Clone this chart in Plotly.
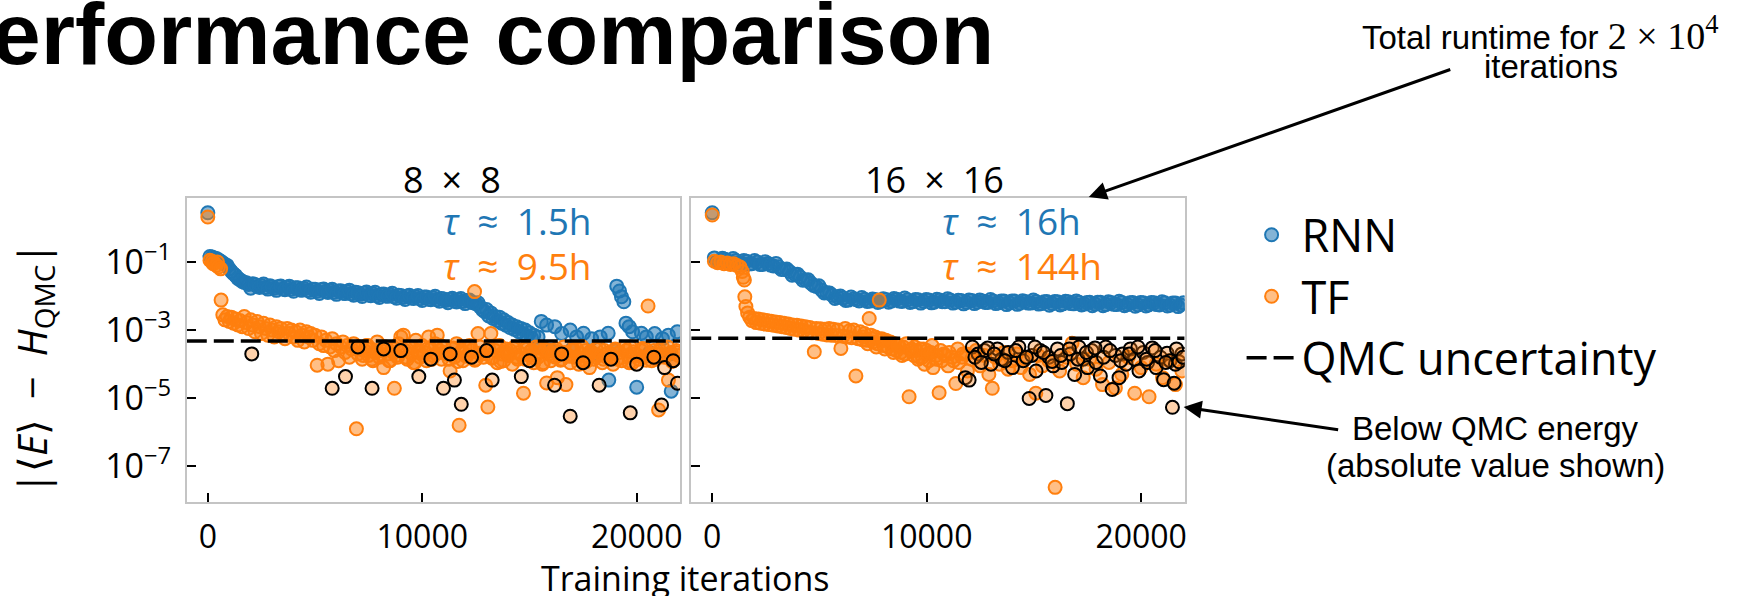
import plotly.graph_objects as go

# ---------------- data: |<E> - H_QMC| versus training iteration ----------------
# 8 x 8 lattice
rnn8_iter = [0, 100, 300, 500, 700, 900, 1100, 1300, 1500, 1700,
             1900, 2100, 2300, 2500, 2700, 2900, 3100, 3300, 3500, 3700,
             3900, 4100, 4300, 4500, 4700, 4900, 5100, 5300, 5500, 5700,
             5900, 6100, 6300, 6500, 6700, 6900, 7100, 7300, 7500, 7700,
             7900, 8100, 8300, 8500, 8700, 8900, 9100, 9300, 9500, 9700,
             9900, 10100, 10300, 10500, 10700, 10900, 11100, 11300, 11500, 11700,
             11900, 12100, 12300, 12500, 12600, 12700, 12800, 12900, 13000, 13100,
             13200, 13300, 13400, 13500, 13600, 13700, 13800, 13900, 14000, 14100,
             14200, 14300, 14400, 14500, 14600, 14700, 14800, 14900, 15000, 15100,
             15200, 15300, 15400, 15550, 15800, 16000, 16180, 16500, 16900, 17000,
             17200, 17520, 17900, 18000, 18300, 18670, 18700, 19000, 19070, 19200,
             19290, 19400, 19500, 19650, 19810, 20000, 20220, 20450, 20600, 20840,
             21200, 21480, 21550, 21610, 21890,
             200, 400, 600, 800, 1000, 1200, 1400, 1600, 1800,
             2000, 2200, 2400, 2600, 2800, 3000, 3200, 3400, 3600, 3800,
             4000, 4200, 4400, 4600, 4800, 5000, 5200, 5400, 5600, 5800,
             6000, 6200, 6400, 6600, 6800, 7000, 7200, 7400, 7600, 7800,
             8000, 8200, 8400, 8600, 8800, 9000, 9200, 9400, 9600, 9800,
             10000, 10200, 10400, 10600, 10800, 11000, 11200, 11400, 11600, 11800,
             12000, 12200, 12400]
rnn8_err = [2.8, 0.145, 0.132, 0.117, 0.0955, 0.0794, 0.0525, 0.0398, 0.0302, 0.0251,
            0.0219, 0.0229, 0.0191, 0.0204, 0.0178, 0.0200, 0.0170, 0.0191, 0.0162, 0.0182,
            0.0158, 0.0174, 0.0151, 0.0166, 0.0145, 0.0158, 0.0138, 0.0155, 0.0135, 0.0148,
            0.0129, 0.0141, 0.0123, 0.0135, 0.0117, 0.0129, 0.0112, 0.0123, 0.0107, 0.0117,
            0.0102, 0.0112, 0.0100, 0.0110, 0.0095, 0.0105, 0.0091, 0.0100, 0.0087, 0.0095,
            0.0083, 0.0093, 0.0081, 0.0089, 0.0078, 0.0085, 0.0074, 0.0081, 0.0072, 0.0078,
            0.0069, 0.0074, 0.0066, 0.0060, 0.0063, 0.0048, 0.0040, 0.0035, 0.0040, 0.0026,
            0.0032, 0.0022, 0.0025, 0.0019, 0.0024, 0.0016, 0.0020, 0.0014, 0.00166, 0.00117,
            0.00141, 0.00105, 0.00126, 0.00089, 0.00112, 0.00079, 0.00100, 0.00066, 0.00083, 0.00058,
            0.00071, 0.00032, 0.00063, 0.0018, 0.0014, 0.00025, 0.00126, 0.00079, 0.0010, 0.00028,
            0.00063, 0.00081, 0.00056, 0.00020, 0.00063, 0.00081, 3.4e-5, 0.00025, 0.0195, 0.0141,
            0.0095, 0.0068, 0.0016, 0.00126, 0.00089, 2.1e-5, 0.00081, 0.00063, 0.00022, 0.00079,
            0.00056, 0.00071, 0.0002, 1.6e-5, 0.00089,
            0.140, 0.126, 0.105, 0.085, 0.063, 0.045, 0.033, 0.027, 0.0245,
            0.0170, 0.0219, 0.0179, 0.0225, 0.0160, 0.0188, 0.0147, 0.0198, 0.0154, 0.0195,
            0.0138, 0.0174, 0.0149, 0.0183, 0.0130, 0.0157, 0.0119, 0.0161, 0.0128, 0.0158,
            0.0112, 0.0142, 0.0118, 0.0149, 0.0106, 0.0124, 0.0097, 0.0131, 0.0102, 0.0129,
            0.0091, 0.0115, 0.0098, 0.0121, 0.0086, 0.0104, 0.0079, 0.0106, 0.0085, 0.0104,
            0.0074, 0.0094, 0.0078, 0.0098, 0.0070, 0.0082, 0.0064, 0.0086, 0.0067, 0.0085,
            0.0060, 0.0076, 0.0063]

tf8_iter = [0, 100, 200, 250, 300, 400, 450, 500, 600, 620,
            700, 800, 900, 1000, 1100, 1200, 1300, 1400, 1500, 1600,
            1700, 1800, 1900, 2000, 2100, 2200, 2300, 2400, 2500, 2600,
            2700, 2800, 2900, 3000, 3100, 3200, 3300, 3400, 3500, 3600,
            3700, 3800, 3900, 4000, 4100, 4200, 4300, 4400, 4500, 4600,
            4700, 4800, 4900, 5000, 5100, 5200, 5300, 5400, 5500, 5600,
            5700, 5800, 5900, 6000, 6100, 6200, 6300, 6400, 6500, 6600,
            6700, 6800, 6930, 7000, 7100, 7200, 7300, 7400, 7500, 7600,
            7700, 7800, 7900, 8000, 8100, 8200, 8300, 8400, 8500, 8600,
            8700, 8800, 8900, 9000, 9120, 9200, 9300, 9400, 9500, 9600,
            9700, 9800, 9900, 10000, 10100, 10200, 10300, 10400, 10500, 10600,
            10700, 10800, 10900, 11000, 11100, 11300, 11400, 11500, 11600, 11720,
            11800, 11900, 12000, 12100, 12200, 12300, 12440, 12500, 12600, 12700,
            12800, 12960, 13060, 13100, 13200, 13300, 13400, 13500, 13600, 13700,
            13800, 13900, 14000, 14100, 14200, 14300, 14400, 14500, 14720, 14800,
            14900, 15000, 15100, 15200, 15300, 15400, 15500, 15600, 15700, 15800,
            15900, 16000, 16100, 16200, 16300, 16400, 16500, 16600, 16700, 16800,
            16900, 17000, 17100, 17200, 17300, 17400, 17500, 17600, 17700, 17800,
            17900, 18000, 18100, 18200, 18400, 18500, 18600, 18800, 18900, 19000,
            19100, 19200, 19300, 19500, 19600, 19700, 19800, 19900, 20100, 20200,
            20300, 20400, 20530, 20600, 20700, 20800, 20900, 21020, 21100, 21200,
            21300, 21480, 21600, 21700, 21850, 21950,
            7050, 7250, 7450, 7650, 7850, 8050, 8250, 8450, 8650, 8850,
            9050, 9250, 9450, 9650, 9850, 10050, 10250, 10450, 10650, 10850,
            11050, 11250, 11450, 11650, 11850, 12050, 12250, 12450, 12650, 12850,
            13050, 13250, 13450, 13650, 13850, 14050, 14250, 14450, 14650, 14850,
            15050, 15250, 15450, 15650, 15850, 16050, 16250, 16450, 16650, 16850,
            17050, 17250, 17450, 17650, 17850, 18050, 18250, 18450, 18650, 18850,
            19050, 19250, 19450, 19650, 19850, 20050, 20250, 20450, 20650, 20850,
            21050, 21250, 21450, 21650, 21850]
tf8_err = [2.1, 0.112, 0.105, 0.089, 0.095, 0.079, 0.1, 0.071, 0.063, 0.0076,
           0.0028, 0.0020, 0.0025, 0.00178, 0.0024, 0.00158, 0.0021, 0.00141, 0.0019, 0.00126,
           0.0025, 0.00166, 0.00112, 0.0020, 0.00141, 0.00089, 0.00178, 0.00126, 0.00079, 0.00158,
           0.00112, 0.00071, 0.00141, 0.0010, 0.00063, 0.00126, 0.00089, 0.00112, 0.00079, 0.00056,
           0.00112, 0.00079, 0.0010, 0.00063, 0.00089, 0.0005, 0.0010, 0.00071, 0.00045, 0.00089,
           0.00063, 0.00079, 0.0005, 0.00071, 9.3e-5, 0.0004, 0.00063, 0.00035, 0.0005, 1.0e-4,
           0.00032, 0.00056, 0.00025, 0.0004, 1.26e-4, 0.00032, 0.00045, 0.00022, 0.00035, 1.6e-4,
           0.00028, 0.0004, 1.26e-6, 2.0e-4, 0.00032, 1.4e-4, 0.00025, 0.00035, 1.8e-4, 0.00028,
           1.26e-4, 0.00022, 0.00045, 1.6e-4, 0.00025, 7.9e-5, 0.00032, 2.0e-4, 1.26e-4, 0.00028,
           1.95e-5, 1.8e-4, 0.0004, 0.00063, 0.00071, 0.00025, 1.4e-4, 0.00032, 2.0e-4, 1.1e-4,
           0.0005, 0.00025, 1.6e-4, 0.00035, 0.00022, 1.26e-4, 0.00063, 0.00028, 1.8e-4, 0.0004,
           0.00071, 0.00025, 1.4e-4, 0.00032, 2.0e-4, 6.3e-5, 0.00028, 1.6e-4, 0.0004, 1.6e-6,
           0.00022, 1.26e-4, 0.00032, 1.8e-4, 0.00035, 0.00025, 0.0135, 1.4e-4, 0.00079, 0.00032,
           2.0e-4, 2.4e-5, 5.5e-6, 0.00028, 0.00079, 1.6e-4, 0.00025, 1.1e-4, 0.00035, 2.0e-4,
           1.26e-4, 0.00028, 1.8e-4, 0.00025, 1.0e-4, 0.00032, 1.6e-4, 0.00022, 1.4e-5, 1.4e-4,
           0.00028, 1.8e-4, 0.00025, 1.1e-4, 0.00032, 1.6e-4, 0.00022, 1.0e-4, 0.00028, 2.8e-5,
           2.0e-4, 1.26e-4, 0.00025, 1.6e-4, 4.0e-5, 0.00022, 1.4e-4, 0.00032, 2.5e-5, 1.8e-4,
           1.1e-4, 0.00025, 1.6e-4, 0.00028, 1.0e-4, 2.0e-4, 1.26e-4, 0.00025, 1.6e-4, 7.9e-5,
           0.00022, 1.4e-4, 0.00028, 1.8e-4, 1.1e-4, 0.00025, 1.6e-4, 2.0e-4, 1.0e-4, 0.00028,
           1.4e-4, 0.00022, 1.26e-4, 0.00025, 1.8e-4, 0.00032, 1.1e-4, 2.0e-4, 1.4e-4, 0.00025,
           1.6e-4, 0.00028, 0.0051, 1.8e-4, 1.26e-4, 0.00025, 1.4e-4, 4.5e-6, 2.0e-4, 0.00032,
           1.6e-4, 3.4e-5, 0.00022, 1.26e-4, 0.00025, 1.8e-4,
           2.8e-4, 1.8e-4, 3.5e-4, 1.4e-4, 2.5e-4, 2.0e-4, 3.2e-4, 1.26e-4, 2.2e-4, 1.6e-4,
           2.5e-4, 1.6e-4, 3.2e-4, 1.1e-4, 2.2e-4, 1.8e-4, 2.8e-4, 1.4e-4, 2.0e-4, 3.5e-4,
           2.2e-4, 1.4e-4, 3.0e-4, 1.2e-4, 2.5e-4, 1.7e-4, 3.2e-4, 1.3e-4, 2.1e-4, 1.6e-4,
           2.6e-4, 1.5e-4, 3.4e-4, 1.2e-4, 2.3e-4, 1.9e-4, 2.9e-4, 1.4e-4, 2.0e-4, 3.1e-4,
           2.4e-4, 1.5e-4, 3.0e-4, 1.1e-4, 2.6e-4, 1.8e-4, 2.8e-4, 1.3e-4, 2.2e-4, 1.7e-4,
           2.7e-4, 1.6e-4, 3.3e-4, 1.2e-4, 2.4e-4, 1.9e-4, 3.0e-4, 1.4e-4, 2.1e-4, 1.6e-4,
           2.5e-4, 1.5e-4, 3.1e-4, 1.1e-4, 2.3e-4, 1.8e-4, 2.9e-4, 1.3e-4, 2.0e-4, 1.6e-4,
           2.6e-4, 1.7e-4, 3.2e-4, 1.2e-4, 2.2e-4]

# TF energies that fall below the QMC energy (absolute value plotted)
tf8_below_iter = [2050, 5800, 6420, 7000, 7660, 8200, 9000, 9840, 10400, 10990,
                  11300, 11500, 11820, 12300, 13000, 13260, 14620, 15000, 16170, 16500,
                  16900, 17500, 18250, 18800, 19700, 20000, 20800, 21160, 21300, 21700,
                  21900]
tf8_below_err = [2.0e-4, 1.95e-5, 4.3e-5, 3.2e-4, 1.95e-5, 2.8e-4, 2.5e-4, 4.3e-5, 1.4e-4, 1.95e-5,
                 2.0e-4, 3.4e-5, 6.6e-6, 1.6e-4, 2.5e-4, 3.4e-5, 4.3e-5, 1.26e-4, 2.4e-5, 2.0e-4,
                 2.95e-6, 1.1e-4, 2.4e-5, 1.4e-4, 3.7e-6, 1.0e-4, 1.6e-4, 6.3e-6, 7.9e-5, 1.26e-4,
                 2.75e-5]

# 16 x 16 lattice
rnn16_iter = [0, 100, 350, 600, 850, 1100, 1350, 1600, 1850, 2100,
              2350, 2600, 2850, 3100, 3350, 3600, 3850, 4100, 4350, 4600,
              4850, 5100, 5350, 5600, 5850, 6100, 6350, 6600, 6850, 7100,
              7350, 7600, 7850, 8100, 8350, 8600, 8850, 9100, 9350, 9600,
              9850, 10100, 10350, 10600, 10850, 11100, 11350, 11600, 11850, 12100,
              12350, 12600, 12850, 13100, 13350, 13600, 13850, 14100, 14350, 14600,
              14850, 15100, 15350, 15600, 15850, 16100, 16350, 16600, 16850, 17100,
              17350, 17600, 17850, 18100, 18350, 18600, 18850, 19100, 19350, 19600,
              19850, 20100, 20350, 20600, 20850, 21100, 21350, 21600, 21850,
              225, 475, 725, 975, 1225, 1475, 1725, 1975, 2225, 2475,
              2725, 2975, 3225, 3475, 3725, 3975, 4225, 4475, 4725, 4975,
              5225, 5475, 5725, 5975, 6225, 6475, 6725, 6975, 7225, 7475,
              7725, 7975, 8225, 8475, 8725, 8975, 9225, 9475, 9725, 9975,
              10225, 10475, 10725, 10975, 11225, 11475, 11725, 11975, 12225, 12475,
              12725, 12975, 13225, 13475, 13725, 13975, 14225, 14475, 14725, 14975,
              15225, 15475, 15725, 15975, 16225, 16475, 16725, 16975, 17225, 17475,
              17725, 17975, 18225, 18475, 18725, 18975, 19225, 19475, 19725, 19975,
              20225, 20475, 20725, 20975, 21225, 21475, 21725, 21975]
rnn16_err = [2.8, 0.132, 0.110, 0.120, 0.100, 0.110, 0.093, 0.105, 0.089, 0.100,
             0.085, 0.091, 0.076, 0.072, 0.060, 0.0525, 0.0437, 0.0363, 0.0295, 0.0240,
             0.0191, 0.0151, 0.0126, 0.0105, 0.0093, 0.0087, 0.0076, 0.0083, 0.0072, 0.0081,
             0.0071, 0.0079, 0.0069, 0.0079, 0.0071, 0.0081, 0.0069, 0.0078, 0.0068, 0.0078,
             0.0069, 0.0076, 0.0066, 0.0076, 0.0068, 0.0076, 0.0066, 0.0074, 0.0065, 0.0074,
             0.0066, 0.0072, 0.0065, 0.0072, 0.0063, 0.0071, 0.0063, 0.0071, 0.0062, 0.0069,
             0.0062, 0.0069, 0.0060, 0.0069, 0.0060, 0.0068, 0.0059, 0.0068, 0.0059, 0.0066,
             0.0058, 0.0066, 0.0058, 0.0066, 0.0056, 0.0065, 0.0056, 0.0065, 0.0056, 0.0065,
             0.0055, 0.0063, 0.0055, 0.0063, 0.0055, 0.0063, 0.0054, 0.0062, 0.0055,
             0.105, 0.129, 0.107, 0.126, 0.093, 0.111, 0.087, 0.110, 0.085, 0.102,
             0.081, 0.091, 0.060, 0.062, 0.041, 0.044, 0.029, 0.030, 0.0204, 0.0200,
             0.0123, 0.0123, 0.0085, 0.0100, 0.0074, 0.0093, 0.0078, 0.0091, 0.0069, 0.0082,
             0.0065, 0.0083, 0.0066, 0.0084, 0.0071, 0.0087, 0.0065, 0.0079, 0.0062, 0.0079,
             0.0063, 0.0080, 0.0068, 0.0083, 0.0062, 0.0075, 0.0059, 0.0076, 0.0060, 0.0077,
             0.0065, 0.0079, 0.0060, 0.0072, 0.0056, 0.0072, 0.0057, 0.0073, 0.0062, 0.0076,
             0.0058, 0.0068, 0.0054, 0.0069, 0.0055, 0.0070, 0.0060, 0.0072, 0.0055, 0.0065,
             0.0052, 0.0066, 0.0052, 0.0068, 0.0057, 0.0070, 0.0052, 0.0063, 0.0050, 0.0065,
             0.0051, 0.0065, 0.0056, 0.0068, 0.0051, 0.0062, 0.0049, 0.0063]

tf16_iter = [0, 100, 250, 400, 550, 700, 850, 1000, 1150, 1300,
             1400, 1450, 1500, 1520, 1570, 1650, 1750, 1850, 1950, 2050,
             2150, 2250, 2350, 2450, 2550, 2650, 2750, 2850, 2950, 3050,
             3150, 3250, 3350, 3450, 3550, 3650, 3750, 3850, 3950, 4050,
             4150, 4250, 4350, 4450, 4550, 4650, 4760, 4850, 4950, 5050,
             5150, 5250, 5350, 5450, 5550, 5650, 5750, 5850, 6000, 6100,
             6200, 6300, 6400, 6500, 6600, 6700, 6800, 6900, 7000, 7100,
             7200, 7320, 7400, 7500, 7600, 7700, 7790, 7900, 8000, 8100,
             8200, 8300, 8400, 8500, 8600, 8700, 8800, 8900, 9000, 9180,
             9300, 9400, 9500, 9600, 9700, 9800, 9900, 10000, 10100, 10200,
             10300, 10450, 10580, 10700, 10800, 11000, 11200, 11360, 11500, 11700,
             11900, 12100, 12300, 12500, 12700, 12900, 13060, 13200, 13400, 13600,
             13800, 14000, 14200, 14400, 14600, 14800, 15090, 15200, 15400, 15700,
             15990, 16200, 16500, 16780, 17000, 17300, 17600, 17900, 18200, 18500,
             18800, 19100, 19400, 19700, 20000, 20370, 20700, 21000, 21300, 21600,
             21900,
             7050, 7250, 7450, 7650, 7850, 8050, 8250, 8450, 8650, 8850,
             9050, 9250, 9450, 9650, 9850, 10050, 10250, 10450, 10650, 10850,
             11050, 11250, 11450, 11650, 11850]
tf16_err = [2.4, 0.105, 0.095, 0.1, 0.089, 0.093, 0.085, 0.089, 0.079, 0.071,
            0.0525, 0.0355, 0.0295, 0.0095, 0.0049, 0.0032, 0.0024, 0.0019, 0.0022, 0.00166,
            0.0021, 0.00158, 0.0020, 0.00151, 0.0019, 0.00145, 0.00182, 0.00138, 0.00174, 0.00132,
            0.00166, 0.00126, 0.00158, 0.0012, 0.00151, 0.00112, 0.00141, 0.00105, 0.00138, 0.0010,
            0.00132, 0.00095, 0.00126, 0.00089, 0.0012, 0.00083, 0.00023, 0.00112, 0.00079, 0.0011,
            0.00076, 0.00105, 0.00072, 0.00112, 0.00071, 0.00105, 0.00069, 0.0010, 0.00029, 0.00066,
            0.00112, 0.00063, 0.00095, 0.0006, 0.0010, 4.5e-5, 0.00056, 0.00089, 0.00052, 0.00079,
            0.0005, 0.0022, 0.00071, 0.00045, 0.00063, 0.0004, 0.0076, 0.00056, 0.00035, 0.0005,
            0.00032, 0.00045, 0.00028, 0.0004, 0.00025, 0.00035, 0.00022, 0.00032, 0.0002, 1.1e-5,
            0.00028, 0.00018, 0.00025, 0.00014, 0.00028, 0.00016, 0.0001, 0.00025, 0.000126, 0.00022,
            7.9e-5, 0.00018, 1.45e-5, 0.000126, 0.0002, 8.9e-5, 0.00016, 2.7e-5, 0.000112, 0.0002,
            6.3e-5, 0.00014, 0.00025, 8.9e-5, 0.00018, 5e-5, 1.95e-5, 0.00016, 0.0001, 0.00022,
            7.1e-5, 0.000126, 0.0002, 7.9e-5, 0.00014, 5e-5, 1.4e-5, 0.00018, 8.9e-5, 0.000126,
            2.4e-8, 6.3e-5, 0.00016, 0.00041, 0.0001, 4e-5, 0.00014, 7.1e-5, 2.5e-5, 0.000112,
            2e-5, 5e-5, 0.00016, 1.4e-5, 7.9e-5, 1.1e-5, 0.0001, 4e-5, 0.000126, 2.5e-5,
            6.3e-5,
            6.3e-4, 4.0e-4, 5.6e-4, 3.2e-4, 5.0e-4, 2.8e-4, 4.5e-4, 2.2e-4, 3.5e-4, 1.8e-4,
            4.0e-4, 2.5e-4, 3.2e-4, 1.6e-4, 2.8e-4, 2.0e-4, 3.5e-4, 1.4e-4, 2.5e-4, 1.8e-4,
            2.2e-4, 1.26e-4, 2.8e-4, 1.6e-4, 2.0e-4]

tf16_below_iter = [11800, 11980, 12130, 12400, 12700, 13000, 13300, 13500, 13800, 14000,
                   14300, 14500, 14780, 14900, 15100, 15300, 15560, 15700, 15900, 16100,
                   16300, 16560, 16700, 16900, 17100, 17300, 17500, 17700, 17900, 18100,
                   18350, 18650, 18800, 18970, 19130, 19300, 19500, 19700, 19900, 20100,
                   20300, 20520, 20700, 20900, 21050, 21210, 21350, 21460, 21540, 21600,
                   21770, 21900,
                   12250, 12550, 12850, 13150, 13650, 14150, 14650, 15050, 15450, 15850,
                   16250, 16650, 17050, 17450, 17850, 18250, 18550, 19050, 19450, 19850,
                   20250, 20650, 21150, 21650, 21950]
tf16_below_err = [4e-5, 3.4e-5, 3.2e-4, 2.0e-4, 2.5e-4, 1.0e-4, 2.8e-4, 1.4e-4, 2.2e-4, 7.9e-5,
                  3.2e-4, 1.26e-4, 9.8e-6, 1.8e-4, 6.3e-5, 2.5e-4, 1.2e-5, 1.6e-4, 8.9e-5, 2.8e-4,
                  1.12e-4, 6.9e-6, 2.0e-4, 5e-5, 3.2e-4, 1.4e-4, 7.9e-5, 2.5e-4, 1.12e-4, 4.5e-5,
                  3.2e-4, 1.8e-5, 1.8e-4, 4e-5, 2.0e-4, 1.0e-4, 2.8e-4, 1.4e-4, 6.3e-5, 2.2e-4,
                  1.12e-4, 3.0e-4, 7.9e-5, 1.6e-4, 3.5e-5, 2.1e-4, 1.26e-4, 5.4e-6, 2.75e-5, 1.0e-4,
                  1.17e-4, 2.0e-4,
                  1.6e-4, 1.12e-4, 3.0e-4, 2.0e-4, 1.26e-4, 2.5e-4, 1.6e-4, 3.2e-4, 2.2e-4, 1.2e-4,
                  1.8e-4, 2.8e-4, 1.4e-4, 2.2e-4, 3.0e-4, 1.6e-4, 2.5e-4, 1.26e-4, 2.0e-4, 3.2e-4,
                  1.4e-4, 2.5e-4, 1.12e-4, 2.8e-4, 1.6e-4]

# QMC statistical uncertainty for each lattice
qmc_unc_8x8 = 4.8e-4
qmc_unc_16x16 = 5.8e-4

panel_titles = ["8\u2002×\u20028", "16\u2002×\u200216"]
runtime_rnn = ["1.5h", "16h"]
runtime_tf = ["9.5h", "144h"]

x_range = [-980, 22030]
x_tick_vals = [0, 10000, 20000]
x_tick_text = ["0", "10000", "20000"]
y_tick_vals = [1e-1, 1e-3, 1e-5, 1e-7]
y_tick_text = ["10<sup>−1</sup>", "10<sup>−3</sup>", "10<sup>−5</sup>", "10<sup>−7</sup>"]

# ---------------- styling ----------------
W, H = 1760, 596
BLUE = "#1f77b4"
ORANGE = "#ff7f0e"
SANS = "Open Sans"
HELV = "Liberation Sans"
MSIZE = 13


def px(x):
    return x / W


def py(y):
    return 1 - y / H


fig = go.Figure()

panels = [
    ("x", "y", rnn8_iter, rnn8_err, tf8_iter, tf8_err, tf8_below_iter, tf8_below_err, qmc_unc_8x8),
    ("x2", "y2", rnn16_iter, rnn16_err, tf16_iter, tf16_err, tf16_below_iter, tf16_below_err, qmc_unc_16x16),
]
for i, (xa, ya, rx, ry, tx, ty, bx, by, qmc) in enumerate(panels):
    first = i == 0
    fig.add_trace(go.Scatter(
        x=rx, y=ry, mode="markers", name="RNN", legendgroup="rnn", showlegend=first,
        marker=dict(size=MSIZE, color="rgba(31,119,180,0.55)", line=dict(color=BLUE, width=2)),
        xaxis=xa, yaxis=ya))
    fig.add_trace(go.Scatter(
        x=tx, y=ty, mode="markers", name="TF", legendgroup="tf", showlegend=first,
        marker=dict(size=MSIZE, color="rgba(255,127,14,0.5)", line=dict(color=ORANGE, width=2)),
        xaxis=xa, yaxis=ya))
    fig.add_trace(go.Scatter(
        x=bx, y=by, mode="markers", name="TF below QMC", showlegend=False,
        marker=dict(size=MSIZE, color="rgba(255,127,14,0.35)", line=dict(color="black", width=2)),
        xaxis=xa, yaxis=ya))
    fig.add_trace(go.Scatter(
        x=x_range, y=[qmc, qmc], mode="lines", name="QMC uncertainty", legendgroup="qmc",
        showlegend=first, line=dict(color="black", width=3.5, dash="20px,7px"),
        xaxis=xa, yaxis=ya))

axis_common = dict(showgrid=False, zeroline=False, showline=True, mirror=True,
                   linecolor="#c4c4c4", linewidth=1.5, ticks="inside", ticklen=9,
                   tickwidth=2, tickcolor="black")
x_common = dict(range=x_range, tickvals=x_tick_vals, ticktext=x_tick_text,
                tickfont=dict(family=SANS, size=32, color="black"), ticklabelstandoff=6,
                **axis_common)
y_common = dict(type="log", range=[-8.05, 0.88], tickvals=y_tick_vals,
                domain=[py(502), py(198)], **axis_common)

fig.update_layout(
    width=W, height=H,
    margin=dict(l=0, r=0, t=0, b=0),
    paper_bgcolor="white", plot_bgcolor="white",
    xaxis=dict(domain=[px(187), px(681)], anchor="y", **x_common),
    xaxis2=dict(domain=[px(692), px(1186)], anchor="y2", **x_common),
    yaxis=dict(anchor="x", ticktext=y_tick_text, ticklabelstandoff=7,
               tickfont=dict(family=SANS, size=34, color="black"), **y_common),
    yaxis2=dict(anchor="x2", showticklabels=False, **y_common),
    legend=dict(x=px(1243), y=py(199), xanchor="left", yanchor="top",
                font=dict(family=SANS, size=45, color="black"),
                itemwidth=50, bgcolor="rgba(0,0,0,0)", traceorder="normal"),
    showlegend=True,
)

ann = []
# big heading, running off the left edge
ann.append(dict(text="<b>Performance comparison</b>", x=px(997), y=py(34), xanchor="right",
                yanchor="middle", font=dict(family=HELV, size=88, color="black")))
# panel titles and runtimes
for xc, title in zip([453, 936], panel_titles):
    ann.append(dict(text=title, x=px(xc), y=py(179), xanchor="center", yanchor="middle",
                    font=dict(family=SANS, size=36, color="black")))
for xl, t_rnn, t_tf in zip([442, 941], runtime_rnn, runtime_tf):
    ann.append(dict(text="<i>τ</i>\u2002≈\u2002" + t_rnn, x=px(xl), y=py(220), xanchor="left",
                    yanchor="middle", font=dict(family=SANS, size=37, color=BLUE)))
    ann.append(dict(text="<i>τ</i>\u2002≈\u2002" + t_tf, x=px(xl), y=py(265), xanchor="left",
                    yanchor="middle", font=dict(family=SANS, size=37, color=ORANGE)))
# axis titles
ann.append(dict(text="|⟨<i>E</i>⟩\u2002−\u2002<i>H</i><sub>QMC</sub>|", x=px(33), y=py(368),
                textangle=-90, xanchor="center", yanchor="middle",
                font=dict(family=SANS, size=40, color="black")))
ann.append(dict(text="Training iterations", x=px(686), y=py(578), xanchor="center",
                yanchor="middle", font=dict(family=SANS, size=34, color="black")))
# call-outs
ann.append(dict(text="Total runtime for <span style='font-family:Liberation Serif;font-size:38px'>"
                     "2 × 10<sup>4</sup></span>",
                x=px(1542), y=py(33), xanchor="center", yanchor="middle",
                font=dict(family=HELV, size=33, color="black")))
ann.append(dict(text="iterations", x=px(1553), y=py(66), xanchor="center", yanchor="middle",
                font=dict(family=HELV, size=33, color="black")))
ann.append(dict(text="Below QMC energy", x=px(1497), y=py(428), xanchor="center",
                yanchor="middle", font=dict(family=HELV, size=33, color="black")))
ann.append(dict(text="(absolute value shown)", x=px(1497), y=py(465), xanchor="center",
                yanchor="middle", font=dict(family=HELV, size=33, color="black")))
# arrows
ann.append(dict(text="", x=px(1090), y=py(197), ax=363, ay=-128, showarrow=True,
                arrowhead=2, arrowsize=1.2, arrowwidth=3, arrowcolor="black"))
ann.append(dict(text="", x=px(1185), y=py(407), ax=156, ay=23, showarrow=True,
                arrowhead=2, arrowsize=1.2, arrowwidth=3, arrowcolor="black"))

for a in ann:
    a.setdefault("xref", "paper")
    a.setdefault("yref", "paper")
    a.setdefault("showarrow", False)
fig.update_layout(annotations=ann)

fig.write_html("out.html")
